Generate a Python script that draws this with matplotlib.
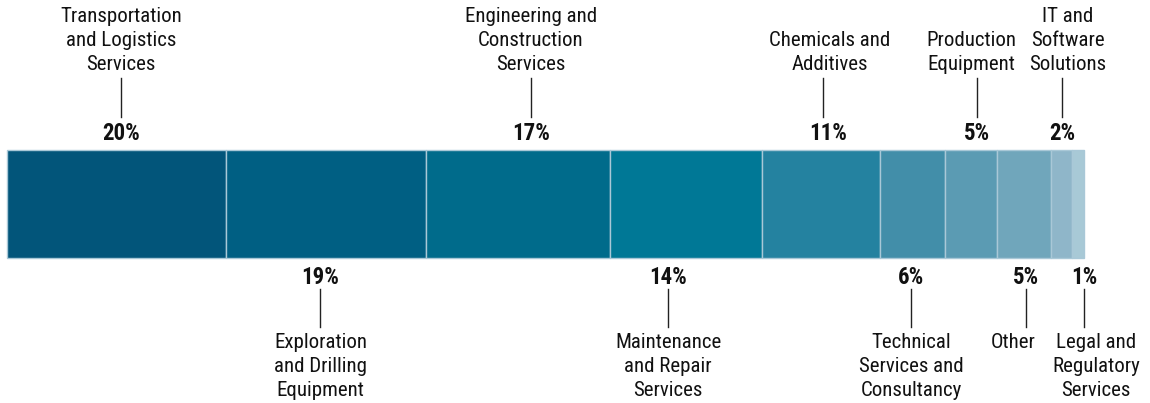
import matplotlib
matplotlib.use("Agg")
import matplotlib.pyplot as plt
from matplotlib import font_manager as fm

# ---- data ----
categories = [
    "Transportation\nand Logistics\nServices",
    "Exploration\nand Drilling\nEquipment",
    "Engineering and\nConstruction\nServices",
    "Maintenance\nand Repair\nServices",
    "Chemicals and\nAdditives",
    "Technical\nServices and\nConsultancy",
    "Production\nEquipment",
    "Other",
    "IT and\nSoftware\nSolutions",
    "Legal and\nRegulatory\nServices",
]
shares = [20.3, 18.6, 17.1, 14.1, 11.0, 6.0, 4.8, 5.0, 2.0, 1.1]
pct_labels = ["20%", "19%", "17%", "14%", "11%", "6%", "5%", "5%", "2%", "1%"]

# ---- style / layout ----
colors = ["#02557a", "#005f83", "#006b8b", "#007896", "#2482a0",
          "#428ea9", "#5b9bb3", "#70a6bb", "#8fb6c9", "#a8c9d6"]
px = 10.77  # pixels per percent
line_dx = [0.43, -0.5, 1.2, -1.65, 0.17, -0.16, 0.56, 0.19, 0.06, 0.55]
text_dx_px = [0, 0, 0, 0, 7, 0, -6, -13, 6, 12]
pct_dx_px = [0, 0, 0, 0, 5, 0, 0, 0, 0, 0]

names = {f.name for f in fm.fontManager.ttflist}
font_kw = {}
for cand in ["Roboto Condensed", "Liberation Sans Narrow", "Open Sans Condensed",
             "DejaVu Sans Condensed"]:
    if cand in names:
        font_kw = {"family": cand}
        break
else:
    font_kw = {"family": "Roboto", "stretch": "condensed"}

W, H = 1150, 403
fig = plt.figure(figsize=(W / 100, H / 100), dpi=100)
ax = fig.add_axes([0, 0, 1, 1])
x0 = 7
ax.set_xlim(-x0 / px, (W - x0) / px)
ax.set_ylim(H, 0)
ax.axis("off")

bar_top, bar_bot = 150, 258
lefts = []
acc = 0
for v in shares:
    lefts.append(acc)
    acc += v
ax.barh([(bar_top + bar_bot) / 2] * len(shares), shares, left=lefts,
        height=bar_bot - bar_top, color=colors, edgecolor="#a9c8d7",
        linewidth=1.0, align="center")

LBL_FS, PCT_FS, LS = 15, 16.5, 1.33
for i, (cat, v, lab) in enumerate(zip(categories, shares, pct_labels)):
    xc = lefts[i] + v / 2 + line_dx[i]
    xt = xc + text_dx_px[i] / px
    xp = xc + pct_dx_px[i] / px
    if i % 2 == 0:
        ax.text(xp, 133, lab, ha="center", va="center", fontsize=PCT_FS,
                fontweight="bold", color="#111111", **font_kw)
        ax.plot([xc, xc], [78, 117], color="#222222", lw=1)
        ax.text(xt, 74, cat, ha="center", va="bottom", fontsize=LBL_FS,
                linespacing=LS, color="#111111", **font_kw)
    else:
        ax.text(xp, 278, lab, ha="center", va="center", fontsize=PCT_FS,
                fontweight="bold", color="#111111", **font_kw)
        ax.plot([xc, xc], [289, 327], color="#222222", lw=1)
        ax.text(xt, 333, cat, ha="center", va="top", fontsize=LBL_FS,
                linespacing=LS, color="#111111", **font_kw)

fig.savefig("out.png", dpi=100)
